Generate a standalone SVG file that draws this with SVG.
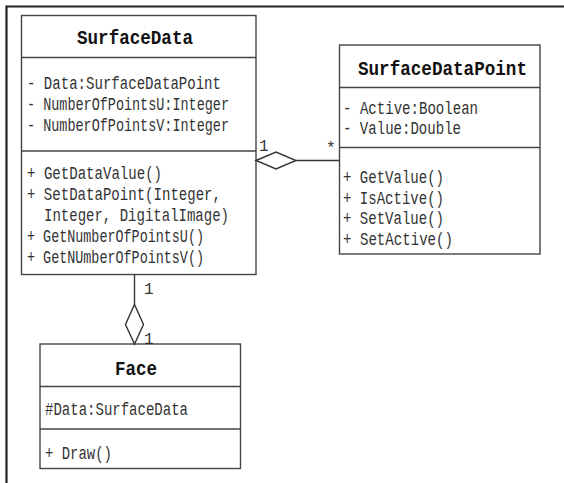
<svg xmlns="http://www.w3.org/2000/svg" width="564" height="483" viewBox="0 0 564 483">
<style>
.box{fill:#fff;stroke:#444;stroke-width:1.4}
.sep{stroke:#444;stroke-width:1.4}
.frame{stroke:#222;stroke-width:2.2;fill:none}
.t{font-family:"Liberation Mono","DejaVu Sans Mono",monospace;font-size:18px;fill:#333}
.h{font-family:"Liberation Mono","DejaVu Sans Mono",monospace;font-size:21px;font-weight:bold;fill:#111}
.m{font-family:"Liberation Mono","DejaVu Sans Mono",monospace;font-size:16px;fill:#333}
.c{stroke:#333;stroke-width:1.4;fill:none}
.d{stroke:#333;stroke-width:1.4;fill:#fff}
</style>
<rect width="564" height="483" fill="#fff"/>
<path class="frame" d="M6.5,483 V6.5 H564"/>

<g id="SurfaceData">
<rect class="box" x="21.5" y="15.5" width="234.5" height="259"/>
<line class="sep" x1="21.5" y1="57.5" x2="256" y2="57.5"/>
<line class="sep" x1="21.5" y1="151" x2="256" y2="151"/>
<text class="h" x="77" y="43.5" textLength="116" lengthAdjust="spacingAndGlyphs">SurfaceData</text>
<text class="t" x="27" y="88.5" textLength="194" lengthAdjust="spacingAndGlyphs">- Data:SurfaceDataPoint</text>
<text class="t" x="27" y="109.5" textLength="202" lengthAdjust="spacingAndGlyphs">- NumberOfPointsU:Integer</text>
<text class="t" x="27" y="130.5" textLength="202" lengthAdjust="spacingAndGlyphs">- NumberOfPointsV:Integer</text>
<text class="t" x="27" y="179" textLength="135" lengthAdjust="spacingAndGlyphs">+ GetDataValue()</text>
<text class="t" x="27" y="200" textLength="194" lengthAdjust="spacingAndGlyphs">+ SetDataPoint(Integer,</text>
<text class="t" x="44" y="221" textLength="185" lengthAdjust="spacingAndGlyphs">Integer, DigitalImage)</text>
<text class="t" x="27" y="242" textLength="177" lengthAdjust="spacingAndGlyphs">+ GetNumberOfPointsU()</text>
<text class="t" x="27" y="263" textLength="177" lengthAdjust="spacingAndGlyphs">+ GetNUmberOfPointsV()</text>
</g>

<g id="SurfaceDataPoint">
<rect class="box" x="339.5" y="45" width="200.5" height="209"/>
<line class="sep" x1="339.5" y1="87.5" x2="540" y2="87.5"/>
<line class="sep" x1="339.5" y1="147.5" x2="540" y2="147.5"/>
<text class="h" x="358" y="75" textLength="169" lengthAdjust="spacingAndGlyphs">SurfaceDataPoint</text>
<text class="t" x="343" y="113.5" textLength="135" lengthAdjust="spacingAndGlyphs">- Active:Boolean</text>
<text class="t" x="343" y="134" textLength="118" lengthAdjust="spacingAndGlyphs">- Value:Double</text>
<text class="t" x="343" y="183" textLength="101" lengthAdjust="spacingAndGlyphs">+ GetValue()</text>
<text class="t" x="343" y="203.5" textLength="101" lengthAdjust="spacingAndGlyphs">+ IsActive()</text>
<text class="t" x="343" y="224" textLength="101" lengthAdjust="spacingAndGlyphs">+ SetValue()</text>
<text class="t" x="343" y="244.5" textLength="110" lengthAdjust="spacingAndGlyphs">+ SetActive()</text>
</g>

<g id="Face">
<rect class="box" x="40" y="344" width="200.5" height="124.5"/>
<line class="sep" x1="40" y1="386.5" x2="240.5" y2="386.5"/>
<line class="sep" x1="40" y1="429" x2="240.5" y2="429"/>
<text class="h" x="115" y="375" textLength="42" lengthAdjust="spacingAndGlyphs">Face</text>
<text class="t" x="45" y="415" textLength="143" lengthAdjust="spacingAndGlyphs">#Data:SurfaceData</text>
<text class="t" x="45" y="458.5" textLength="67" lengthAdjust="spacingAndGlyphs">+ Draw()</text>
</g>

<g id="connectors">
<line class="c" x1="296" y1="160.5" x2="339.5" y2="160.5"/>
<polygon class="d" points="256,160.5 276,152 296,160.5 276,169"/>
<line class="c" x1="134.5" y1="274.5" x2="134.5" y2="304.5"/>
<polygon class="d" points="134.5,304.5 143.5,324.5 134.5,344 125.5,324.5"/>
<text class="m" x="259" y="150.5">1</text>
<text class="m" x="326" y="153">*</text>
<text class="m" x="144" y="293.5">1</text>
<text class="m" x="144" y="343.5">1</text>
</g>
</svg>
